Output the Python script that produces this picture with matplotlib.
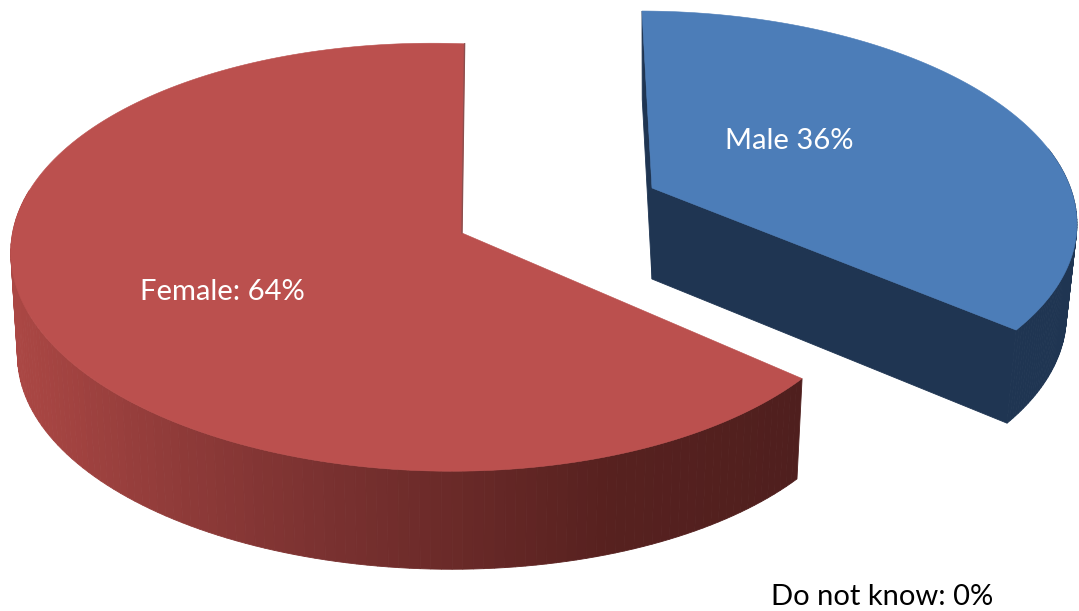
import numpy as np
import matplotlib.pyplot as plt
from matplotlib.colors import LinearSegmentedColormap

plt.rcParams['font.family'] = ['Lato', 'DejaVu Sans']

# Survey shares in percent
categories = ['Male', 'Female', 'Do not know']
shares = [36, 64, 0]
label_texts = ['Male 36%', 'Female: 64%', 'Do not know: 0%']

# Side shading of the red slice, left to right
red_side = LinearSegmentedColormap.from_list('red_side', [
    (0.0, '#ab4744'), (0.18, '#923c3a'), (0.37, '#7c3231'),
    (0.75, '#57211f'), (1.0, '#4f1f1e')])


def ring(t, slice_geom, bottom=False):
    # Projected rim of a tilted disc, t in radians (90 deg = far side)
    g = slice_geom
    w = 1 + g['k'] * np.sin(t) + g['m'] * np.cos(t)
    x = (g['A'] * np.cos(t) + g['S'] * np.sin(t)) / w
    y = -g['B'] * np.sin(t) / w
    if bottom:
        return g['cx'] + g['sx'] * x, g['cy'] + g['depth'] + g['sy'] * y
    return g['cx'] + x, g['cy'] + y


def draw_slice(ax, share, geom, top_color, side_color, direction):
    sweep = direction * 2 * np.pi * share / 100
    t = np.radians(geom['start']) + np.linspace(0, sweep, 181)
    xt, yt = ring(t, geom)
    xb, yb = ring(t, geom, bottom=True)

    for i in range(len(t) - 1):
        if np.sin(t[i]) > 0.2:  # far side is hidden behind the top face
            continue
        xs = [xt[i], xt[i + 1], xb[i + 1], xb[i]]
        ys = [yt[i], yt[i + 1], yb[i + 1], yb[i]]
        c = side_color((xt[i] - xt.min()) / (xt.max() - xt.min()))
        ax.fill(xs, ys, color=c, lw=0.6, zorder=2)

    if geom['walls']:
        wall = side_color(1.0)
        cx, cy = geom['cx'], geom['cy']
        for i in (0, -1):
            ax.fill([xt[i], cx, cx, xb[i]], [yt[i], cy, cy + geom['depth'], yb[i]],
                    color=wall, lw=0.6, zorder=2)

    ax.fill(np.r_[geom['cx'], xt], np.r_[geom['cy'], yt], color=top_color, lw=0.4, zorder=3)


fig = plt.figure(figsize=(10.79, 6.11), dpi=100)
ax = fig.add_axes([0, 0, 1, 1])
ax.set_xlim(0, 1079)
ax.set_ylim(611, 0)
ax.axis('off')

male_geom = dict(cx=652, cy=188, A=421, B=203, S=-11.5, k=0.147, m=0.006, start=90,
                 depth=91, sx=0.975, sy=1.015, walls=True)
female_geom = dict(cx=462, cy=233, A=427, B=211, S=-12, k=0.113, m=0.05, start=88,
                   depth=104, sx=0.985, sy=0.975, walls=False)

draw_slice(ax, shares[0], male_geom, '#4c7db8', lambda v: '#1f3552', -1)
draw_slice(ax, shares[1], female_geom, '#bb504e', red_side, 1)

# Thin dark edge on the red slice's cut side
xe, ye = ring(np.radians([female_geom['start']]), female_geom)
ax.plot([xe[0], female_geom['cx']], [ye[0], female_geom['cy']], color='#8c4f4e', lw=1, zorder=4)

ax.text(789, 141, label_texts[0], color='white', fontsize=21, ha='center', va='center', zorder=5)
ax.text(222, 292, label_texts[1], color='white', fontsize=21, ha='center', va='center', zorder=5)
ax.text(882, 597, label_texts[2], color='black', fontsize=21, ha='center', va='center', zorder=5)

fig.savefig('out.png', dpi=100)
